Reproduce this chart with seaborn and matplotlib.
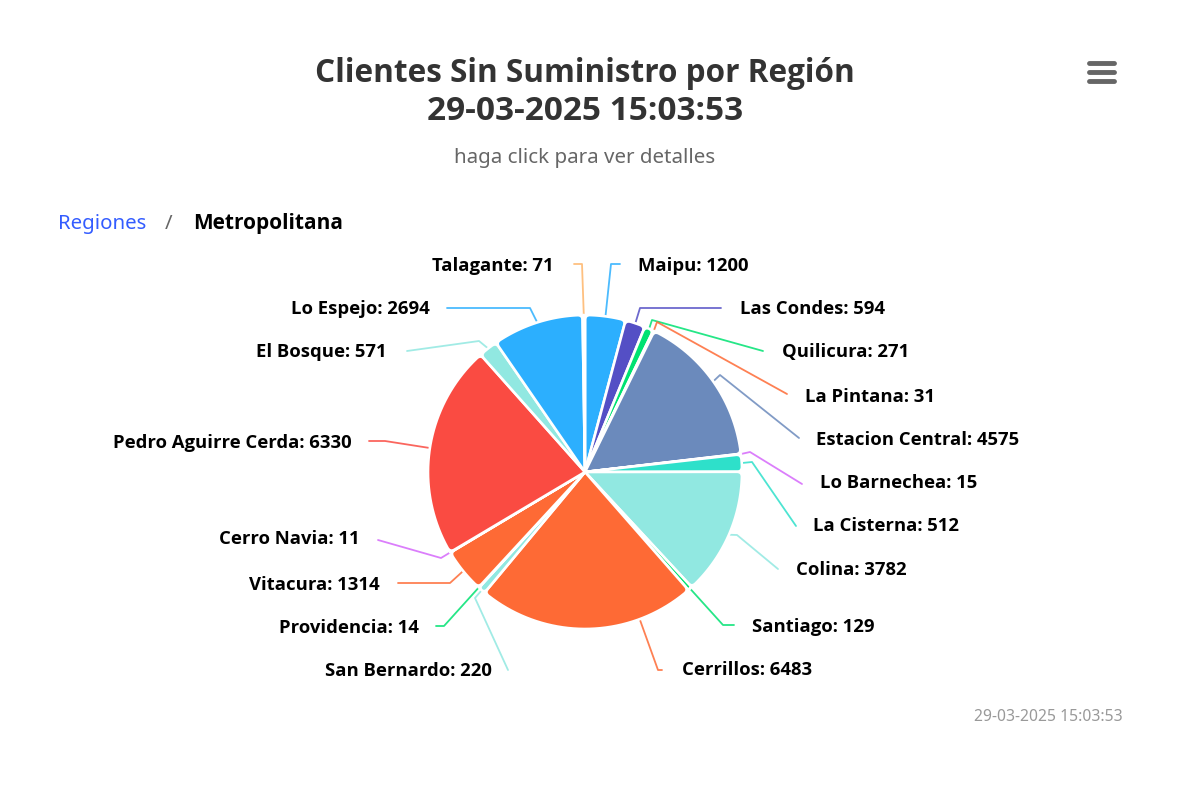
import numpy as np
import matplotlib
matplotlib.use("Agg")
import matplotlib.pyplot as plt
from matplotlib.path import Path
import seaborn as sns

comunas = ["Maipu", "Las Condes", "Quilicura", "La Pintana", "Estacion Central",
           "Lo Barnechea", "La Cisterna", "Colina", "Santiago", "Cerrillos", "San Bernardo",
           "Providencia", "Vitacura", "Cerro Navia", "Pedro Aguirre Cerda", "El Bosque", "Lo Espejo", "Talagante"]
clientes = [1200, 594, 271, 31, 4575, 15, 512, 3782, 129, 6483, 220, 14, 1314, 11, 6330, 571, 2694, 71]
colores = ["#2caffe", "#544fc5", "#00e272", "#fe6a35", "#6b8abc", "#d568fb", "#2ee0ca",
           "#91e8e1", "#00e272", "#fe6a35", "#91e8e1", "#00e272", "#fe6a35", "#d568fb", "#fa4b42",
           "#91e8e1", "#2caffe", "#feb56a"]

# layout only: leader elbow, leader end, label anchor (pixels), alignment
elbows = [(611, 264), (640, 308), (652, 320), (657, 322), (720, 375), (750, 452), (752, 462),
          (737, 535), (723, 625), (658, 670), (475, 598), (444, 626), (450, 583), (441, 558), (385, 441),
          (479, 341), (530, 308), (582, 264)]
ends = [(620, 264), (721, 308), (763, 351), (787, 394), (799, 438), (802, 484), (796, 526),
        (778, 569), (734, 625), (662, 670), (508, 670), (436, 626), (398, 583), (378, 540), (369, 441),
        (407, 351), (447, 308), (574, 264)]
label_x = [638, 740, 782, 805, 816, 820, 813, 796, 752, 682, 492, 419, 380, 360, 352, 387, 430, 554]
label_y = [266, 309, 352, 397, 440, 483, 526, 570, 627, 670, 671, 628, 585, 539, 443, 352, 309, 266]
label_ha = ["left"] * 10 + ["right"] * 8
start_override = {"Cerrillos": (640, 620)}

sns.set_theme(style="white")
plt.rcParams["font.family"] = ["Open Sans", "DejaVu Sans"]

fig = plt.figure(figsize=(12, 8), dpi=100, facecolor="white")
ax = fig.add_axes([0, 0, 1, 1])
Y = lambda y: 800 - y

CX, CY, R = 585, 472, 157
wedges, _ = ax.pie(clientes, colors=sns.color_palette(colores), center=(CX, Y(CY)), radius=R,
                   startangle=90, counterclock=False, frame=True,
                   wedgeprops=dict(edgecolor="white", linewidth=1.9))
ax.set_xlim(0, 1200)
ax.set_ylim(0, 800)
ax.set_aspect("equal")
ax.axis("off")


def rounded(t1, t2, r, c=5.0):
    """Wedge outline (px) with softened outer corners."""
    span = np.radians(t2 - t1)
    d = min(c / r, span / 2)
    a, b = np.radians(t1), np.radians(t2)
    pol = lambda ang, rad: (rad * np.cos(ang), rad * np.sin(ang))
    cc = min(c, r * span / 2 + 1)
    arc = np.linspace(a + d, b - d, 40)
    verts = [(0, 0), pol(a, r - cc), pol(a, r), pol(a + d, r)]
    codes = [Path.MOVETO, Path.LINETO, Path.CURVE3, Path.CURVE3]
    verts += [pol(t, r) for t in arc[1:]]
    codes += [Path.LINETO] * (len(arc) - 1)
    verts += [pol(b, r), pol(b, r - cc), (0, 0), (0, 0)]
    codes += [Path.CURVE3, Path.CURVE3, Path.LINETO, Path.CLOSEPOLY]
    return Path(verts, codes)


for w in wedges:
    w._path = rounded(w.theta1, w.theta2, R)
    w.set_joinstyle("round")
    w.set_transform(matplotlib.transforms.Affine2D().translate(CX, Y(CY)) + ax.transData)

# leader lines and labels
for w, n, v, col, el, en, lx, ly, ha in zip(wedges, comunas, clientes, colores, elbows, ends,
                                            label_x, label_y, label_ha):
    mid = np.radians((w.theta1 + w.theta2) / 2)
    sx, sy = CX + R * np.cos(mid), Y(CY) + R * np.sin(mid)
    if n in start_override:
        sx, sy = start_override[n][0], Y(start_override[n][1])
    ax.plot([sx, el[0], en[0]], [sy, Y(el[1]), Y(en[1])], color=col, lw=1.3,
            solid_joinstyle="round", alpha=0.85, zorder=0.5)
    ax.text(lx, Y(ly), f"{n}: {v}", ha=ha, va="center", fontsize=13.3, fontweight="bold", color="black")

# title block
ax.text(585, Y(73), "Clientes Sin Suministro por Región", ha="center", va="center",
        fontsize=22.7, fontweight="bold", color="#333333")
ax.text(585, Y(111), "29-03-2025 15:03:53", ha="center", va="center",
        fontsize=24, fontweight="bold", color="#333333")
ax.text(585, Y(158), "haga click para ver detalles", ha="center", va="center",
        fontsize=14.8, color="#666666", family="Noto Sans")

# breadcrumb
ax.text(58, Y(224), "Regiones", ha="left", va="center", fontsize=14.7, color="#335cff", family="Noto Sans")
ax.text(169, Y(224), "/", ha="center", va="center", fontsize=14.7, color="#666666", family="Noto Sans")
ax.text(193, Y(224), "Metropolitana", ha="left", va="center", fontsize=15, fontweight="bold", color="black")

# menu icon
for yy in (63, 72, 81):
    ax.plot([1089, 1113.5], [Y(yy), Y(yy)], color="#666666", lw=3.5, solid_capstyle="round")

# credits
ax.text(1123, Y(717), "29-03-2025 15:03:53", ha="right", va="center", fontsize=11.3, color="#999999", family="Noto Sans")

fig.savefig("out.png", dpi=100, facecolor="white")
